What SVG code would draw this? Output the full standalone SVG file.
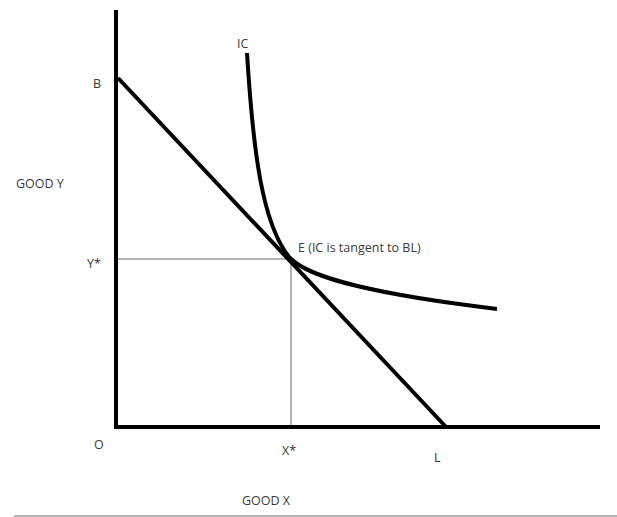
<svg xmlns="http://www.w3.org/2000/svg" width="617" height="517" viewBox="0 0 617 517">
<style>
.t{font-family:"Open Sans","Liberation Sans",sans-serif;font-size:12.5px;fill:#3a3a3a}
.thick{stroke:#000;stroke-width:4;fill:none}
.guide{stroke:#999;stroke-width:1.5;fill:none}
</style>
<rect width="617" height="517" fill="#fff"/>
<g id="connectors">
<line class="guide" x1="118" y1="259" x2="291" y2="259"/>
<line class="guide" x1="291" y1="259" x2="291" y2="427"/>
<line class="guide" x1="14" y1="516" x2="617" y2="516"/>
<line id="y-axis" class="thick" x1="116" y1="10" x2="116" y2="428"/>
<line id="x-axis" class="thick" x1="114" y1="427" x2="600" y2="427"/>
<line id="budget-line" class="thick" x1="118" y1="78" x2="447" y2="428"/>
<path id="ic" class="thick" d="M247,53 C253,150 262,225 290,258 C310,279 380,295 497,309"/>
</g>
<g id="labels">
<text class="t" x="237" y="48">IC</text>
<text class="t" x="93" y="88">B</text>
<text class="t" x="16" y="188">GOOD Y</text>
<text class="t" x="87" y="268">Y*</text>
<text class="t" x="298" y="252">E (IC is tangent to BL)</text>
<text class="t" x="94" y="449">O</text>
<text class="t" x="282" y="455">X*</text>
<text class="t" x="434" y="462">L</text>
<text class="t" x="242" y="505">GOOD X</text>
</g>
</svg>
